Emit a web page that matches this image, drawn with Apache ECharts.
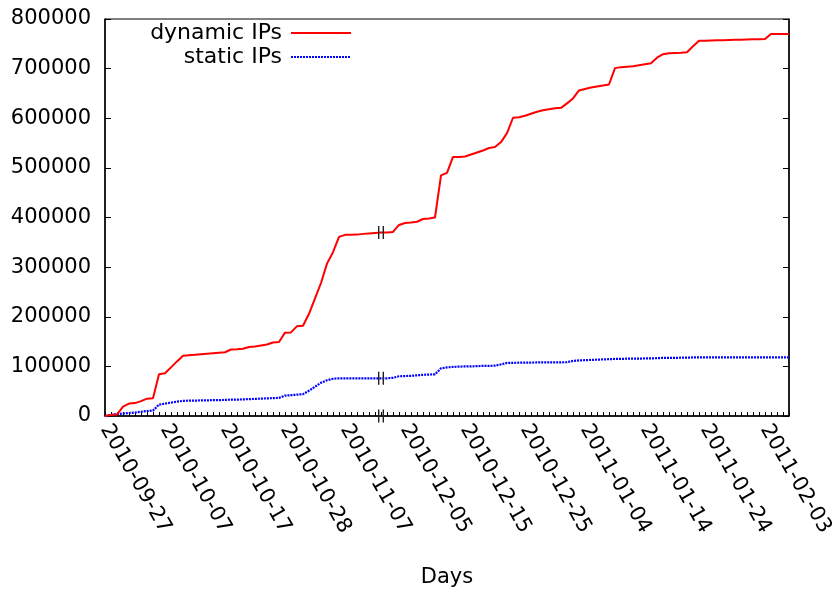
<!DOCTYPE html>
<html>
<head>
<meta charset="utf-8">
<script src="https://cdn.jsdelivr.net/npm/echarts@6/dist/echarts.min.js"></script>
<style>
  html, body { margin: 0; padding: 0; background: #fff; }
  #chart { width: 840px; height: 593px; }
</style>
</head>
<body>
<div id="chart"></div>
<script>
// One entry per observed day; the gap 2010-11-14 .. 2010-12-01 has no data.
const days = [
  '2010-09-27','2010-09-28','2010-09-29','2010-09-30','2010-10-01','2010-10-02','2010-10-03','2010-10-04','2010-10-05','2010-10-06',
  '2010-10-07','2010-10-08','2010-10-09','2010-10-10','2010-10-11','2010-10-12','2010-10-13','2010-10-14','2010-10-15','2010-10-16',
  '2010-10-17','2010-10-18','2010-10-19','2010-10-20','2010-10-21','2010-10-22','2010-10-24','2010-10-25','2010-10-26','2010-10-27',
  '2010-10-28','2010-10-29','2010-10-30','2010-10-31','2010-11-01','2010-11-02','2010-11-03','2010-11-04','2010-11-05','2010-11-06',
  '2010-11-07','2010-11-08','2010-11-09','2010-11-10','2010-11-11','2010-11-12','2010-11-13','2010-12-02','2010-12-03','2010-12-04',
  '2010-12-05','2010-12-06','2010-12-07','2010-12-08','2010-12-09','2010-12-10','2010-12-11','2010-12-12','2010-12-13','2010-12-14',
  '2010-12-15','2010-12-16','2010-12-17','2010-12-18','2010-12-19','2010-12-20','2010-12-21','2010-12-22','2010-12-23','2010-12-24',
  '2010-12-25','2010-12-26','2010-12-27','2010-12-28','2010-12-29','2010-12-30','2010-12-31','2011-01-01','2011-01-02','2011-01-03',
  '2011-01-04','2011-01-05','2011-01-06','2011-01-07','2011-01-08','2011-01-09','2011-01-10','2011-01-11','2011-01-12','2011-01-13',
  '2011-01-14','2011-01-15','2011-01-16','2011-01-17','2011-01-18','2011-01-19','2011-01-20','2011-01-21','2011-01-22','2011-01-23',
  '2011-01-24','2011-01-25','2011-01-26','2011-01-27','2011-01-28','2011-01-29','2011-01-30','2011-01-31','2011-02-01','2011-02-02',
  '2011-02-03','2011-02-04','2011-02-05','2011-02-06','2011-02-07'
];

// Cumulative count of distinct dynamic addresses
const dynamicIPs = [
  0, 2000, 3000, 19000, 25000, 26000, 30000, 35000, 36000, 84000,
  86000, 98000, 110000, 121500, 122500, 123500, 124500, 125500, 126500, 127500,
  128500, 134000, 134500, 135500, 139000, 140000, 142000, 144000, 148000, 149000,
  168000, 168500, 181000, 182000, 206000, 237000, 268000, 307000, 330000, 361000,
  365000, 365000, 365500, 367000, 368000, 369000, 370000, 370000, 371000, 385000,
  389000, 390000, 391500, 397000, 398000, 400000, 485000, 490000, 522000, 522000,
  523000, 527000, 531000, 535000, 540000, 542000, 552000, 570000, 601000, 602000,
  605000, 609000, 613000, 616000, 618000, 620000, 621000, 630000, 640000, 656000,
  659000, 662000, 664000, 666000, 668000, 701000, 703000, 704000, 705000, 707000,
  709000, 711000, 722000, 729000, 731000, 731500, 732000, 733000, 745000, 756000,
  756000, 756500, 757000, 757000, 757500, 758000, 758000, 758500, 759000, 759000,
  759500, 770000, 770000, 770000, 770000
];

// Cumulative count of distinct static addresses
const staticIPs = [
  0, 2000, 4000, 5000, 6000, 7000, 8500, 10000, 11000, 23000,
  25000, 27000, 29000, 30500, 31000, 31000, 31500, 31500, 32000, 32000,
  32500, 33000, 33000, 33500, 34000, 34500, 35000, 35500, 36000, 36500,
  41000, 42000, 43000, 44000, 51000, 59000, 67000, 72000, 75000, 76000,
  76000, 76000, 76000, 76000, 76000, 76000, 76000, 76000, 77000, 80000,
  80500, 81000, 82000, 83000, 83500, 84000, 96000, 98000, 99000, 99500,
  100000, 100000, 100500, 101000, 101000, 101500, 104000, 107000, 107000, 107500,
  107500, 107500, 108000, 108000, 108000, 108000, 108000, 108500, 111000, 112000,
  112500, 113000, 113500, 114000, 114500, 115000, 115000, 115500, 115500, 115500,
  116000, 116000, 116500, 117000, 117000, 117000, 117500, 117500, 118000, 118000,
  118000, 118000, 118000, 118000, 118000, 118000, 118000, 118000, 118000, 118000,
  118000, 118000, 118000, 118000, 118000
];

const yTicks = { min: 0, max: 800000, step: 100000 };
const labelEvery = 10;
const breakDay = '2010-11-13';

const FONT = 'DejaVu Sans';
const FS = 21;
const breakIdx = days.indexOf(breakDay);
// "||" cut mark drawn where the days jump across the gap
const breakSymbol = 'path://M0,0h1.4v10h-1.4z M4.6,0h1.4v10h-1.4z';
const breakMark = (value) => ({
  coord: [breakIdx, value],
  symbol: breakSymbol,
  symbolSize: [6, 13],
  itemStyle: { color: '#222' },
  label: { show: false }
});

const legendBase = {
  right: 488, padding: 0,
  align: 'right', itemWidth: 60, itemHeight: 14, itemGap: 0,
  itemStyle: { color: 'transparent', borderColor: 'transparent', borderWidth: 0 },
  textStyle: { fontFamily: FONT, fontSize: 22, color: '#000', padding: [0, 4, 0, 0] }
};

const chart = echarts.init(document.getElementById('chart'), null, { renderer: 'canvas' });

chart.setOption({
  animation: false,
  backgroundColor: '#ffffff',
  grid: {
    left: 105, right: 51, top: 19, bottom: 175,
    show: true, borderColor: '#000', borderWidth: 1, backgroundColor: 'transparent'
  },
  legend: [
    Object.assign({ data: ['dynamic IPs'], top: 22 }, legendBase),
    Object.assign({ data: ['static IPs'], top: 46 }, legendBase)
  ],
  xAxis: {
    type: 'category',
    data: days,
    boundaryGap: false,
    name: 'Days',
    nameLocation: 'middle',
    nameGap: 151,
    nameTextStyle: { fontFamily: FONT, fontSize: FS, color: '#000' },
    axisLine: { lineStyle: { color: '#000', width: 1.5 } },
    axisTick: { show: true, inside: true, interval: 0, length: 4, lineStyle: { color: '#000' } },
    axisLabel: {
      interval: (index) => index % labelEvery === 0,
      rotate: -60, margin: 10,
      fontFamily: FONT, fontSize: FS, color: '#000'
    },
    splitLine: { show: false }
  },
  yAxis: [
    {
      type: 'value',
      min: yTicks.min, max: yTicks.max, interval: yTicks.step,
      axisLine: { show: true, lineStyle: { color: '#000', width: 1.5 } },
      axisTick: { show: true, inside: true, length: 6, lineStyle: { color: '#000' } },
      axisLabel: {
        margin: 14, fontFamily: FONT, fontSize: FS, color: '#000',
        formatter: (v) => String(v)
      },
      splitLine: { show: false }
    },
    {
      type: 'value', position: 'right',
      min: yTicks.min, max: yTicks.max, interval: yTicks.step,
      axisLine: { show: true, lineStyle: { color: '#000', width: 1.5 } },
      axisTick: { show: true, inside: true, length: 6, lineStyle: { color: '#000' } },
      axisLabel: { show: false },
      splitLine: { show: false }
    }
  ],
  series: [
    {
      name: 'dynamic IPs',
      type: 'line',
      data: dynamicIPs,
      symbol: 'none',
      lineStyle: { color: '#ff0000', width: 2 },
      itemStyle: { color: '#ff0000' },
      markPoint: {
        silent: true,
        data: [breakMark(dynamicIPs[breakIdx]), breakMark(0)]
      },
      z: 3
    },
    {
      name: 'static IPs',
      type: 'line',
      data: staticIPs,
      symbol: 'none',
      lineStyle: { color: '#0000ff', width: 2.2, type: [2, 1] },
      itemStyle: { color: '#0000ff' },
      markPoint: {
        silent: true,
        data: [breakMark(staticIPs[breakIdx])]
      },
      z: 2
    }
  ]
});
</script>
</body>
</html>
